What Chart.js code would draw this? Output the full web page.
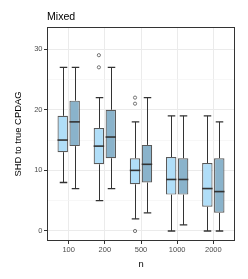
<!DOCTYPE html>
<html>
<head>
<meta charset="utf-8">
<script src="https://cdn.jsdelivr.net/npm/chart.js@4.4.1/dist/chart.umd.min.js"></script>
<style>
  html, body { margin: 0; padding: 0; background: #fff; }
</style>
</head>
<body>
<canvas id="c" width="248" height="279"></canvas>
<script>
// categories (sample size n)
const categories = ['100', '200', '500', '1000', '2000'];
const yTicks = [0, 5, 10, 15, 20, 25, 30];

// light series
const lightLo  = [8, 5, 2, 0, 0];
const lightQ1  = [13, 11, 7.7, 6, 4];
const lightMed = [15, 14, 10, 8.5, 7];
const lightQ3  = [19, 17, 12, 12.2, 11.2];
const lightHi  = [27, 22, 18, 19, 19];
const lightOut = [[], [29, 27], [22, 21, 0], [], []];

// dark series
const darkLo  = [7, 7, 3, 1, 0];
const darkQ1  = [14, 12, 8, 6, 3];
const darkMed = [18, 15.5, 11, 8.5, 6.5];
const darkQ3  = [21.5, 20, 14.2, 12, 12];
const darkHi  = [27, 27, 22, 19, 18];
const darkOut = [[], [], [], [], []];

const stats = [
  { lo: lightLo, q1: lightQ1, med: lightMed, q3: lightQ3, hi: lightHi, out: lightOut },
  { lo: darkLo, q1: darkQ1, med: darkMed, q3: darkQ3, hi: darkHi, out: darkOut }
];

const font = 'Liberation Sans, Arial, sans-serif';

// whiskers under the boxes, medians + outliers + panel border on top
const boxParts = {
  id: 'boxParts',
  beforeDatasetsDraw(chart) {
    const { ctx, scales: { y } } = chart;
    ctx.save();
    ctx.strokeStyle = '#333333';
    stats.forEach((s, d) => {
      chart.getDatasetMeta(d).data.forEach((el, i) => {
        const x = Math.round(el.x) + 0.5;
        const cap = el.width * 0.36;
        ctx.lineWidth = 1;
        ctx.beginPath();
        ctx.moveTo(x, y.getPixelForValue(s.hi[i]));
        ctx.lineTo(x, y.getPixelForValue(s.q3[i]));
        ctx.moveTo(x, y.getPixelForValue(s.q1[i]));
        ctx.lineTo(x, y.getPixelForValue(s.lo[i]));
        ctx.stroke();
        ctx.lineWidth = 1.3;
        ctx.beginPath();
        [s.hi[i], s.lo[i]].forEach(v => {
          const py = y.getPixelForValue(v);
          ctx.moveTo(x - cap, py);
          ctx.lineTo(x + cap, py);
        });
        ctx.stroke();
      });
    });
    ctx.restore();
  },
  afterDatasetsDraw(chart) {
    const { ctx, scales: { y }, chartArea: a } = chart;
    ctx.save();
    stats.forEach((s, d) => {
      chart.getDatasetMeta(d).data.forEach((el, i) => {
        const py = y.getPixelForValue(s.med[i]);
        ctx.strokeStyle = '#333333';
        ctx.lineWidth = 1.6;
        ctx.beginPath();
        ctx.moveTo(el.x - el.width / 2, py);
        ctx.lineTo(el.x + el.width / 2, py);
        ctx.stroke();
        ctx.strokeStyle = '#555555';
        ctx.lineWidth = 0.8;
        s.out[i].forEach(v => {
          ctx.beginPath();
          ctx.arc(el.x, y.getPixelForValue(v), 1.6, 0, Math.PI * 2);
          ctx.stroke();
        });
      });
    });
    ctx.strokeStyle = '#333333';
    ctx.lineWidth = 1;
    ctx.strokeRect(a.left + 0.5, a.top + 0.5, a.right - a.left - 1, a.bottom - a.top - 1);
    ctx.restore();
  },
  afterDraw(chart) {
    const { ctx, chartArea: a } = chart;
    ctx.save();
    ctx.fillStyle = '#000';
    ctx.textAlign = 'left';
    ctx.textBaseline = 'alphabetic';
    ctx.font = '10.6px ' + font;
    ctx.fillText('Mixed', a.left, 20);
    ctx.font = '9.4px ' + font;
    ctx.textAlign = 'center';
    ctx.fillText('n', (a.left + a.right) / 2, 266.5);
    ctx.translate(20.7, (a.top + a.bottom) / 2);
    ctx.rotate(-Math.PI / 2);
    ctx.fillText('SHD to true CPDAG', 0, 0);
    ctx.restore();
  }
};

const boxData = (q1, q3) => categories.map((c, i) => ({ x: i, y: [q1[i], q3[i]] }));

new Chart(document.getElementById('c'), {
  type: 'bar',
  data: {
    datasets: [
      {
        label: 'light',
        data: boxData(lightQ1, lightQ3),
        backgroundColor: '#B0DEF8',
        borderColor: '#5A5A5A',
        borderWidth: 1.2,
        borderSkipped: false
      },
      {
        label: 'dark',
        data: boxData(darkQ1, darkQ3),
        backgroundColor: '#8AB3CB',
        borderColor: '#5A5A5A',
        borderWidth: 1.2,
        borderSkipped: false
      }
    ]
  },
  options: {
    responsive: false,
    animation: false,
    devicePixelRatio: 1,
    categoryPercentage: 0.66,
    barPercentage: 0.875,
    layout: { padding: { left: 0, top: 27, right: 13, bottom: 0 } },
    plugins: { legend: { display: false }, tooltip: { enabled: false }, title: { display: false } },
    scales: {
      x: {
        type: 'linear',
        offset: false,
        min: -0.6,
        max: 4.6,
        afterBuildTicks: s => { s.ticks = categories.map((c, i) => ({ value: i })); },
        afterFit: s => { s.height = 38; },
        ticks: {
          callback: v => categories[v],
          color: '#4D4D4D',
          font: { family: font, size: 7.5 },
          padding: 1,
          maxRotation: 0
        },
        grid: { offset: false, color: '#EBEBEB', lineWidth: 1, tickLength: 3, tickColor: '#333333' },
        border: { display: false }
      },
      y: {
        min: -1.65,
        max: 33.65,
        afterBuildTicks: s => { s.ticks = yTicks.map(v => ({ value: v })); },
        afterFit: s => { s.width = 47; },
        ticks: {
          callback: v => (v % 10 === 0 ? String(v) : ''),
          color: '#4D4D4D',
          font: { family: font, size: 7.5 },
          padding: 1.5
        },
        grid: {
          color: c => (c.tick && c.tick.value % 10 === 0 ? '#EBEBEB' : '#F4F4F4'),
          lineWidth: c => (c.tick && c.tick.value % 10 === 0 ? 1 : 0.7),
          tickLength: 3,
          tickColor: c => (c.tick && c.tick.value % 10 === 0 ? '#333333' : 'rgba(0,0,0,0)')
        },
        border: { display: false }
      }
    }
  },
  plugins: [boxParts]
});
</script>
</body>
</html>
